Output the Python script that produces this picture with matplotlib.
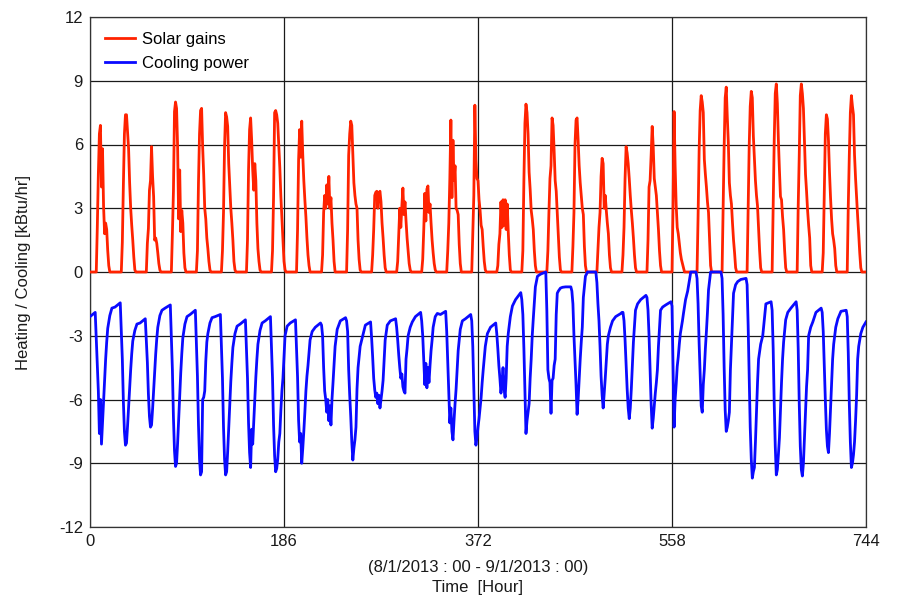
import matplotlib
matplotlib.use("Agg")
import matplotlib.pyplot as plt

plt.rcParams['font.family'] = ['Liberation Sans', 'DejaVu Sans']
plt.rcParams['axes.unicode_minus'] = False

# ---------------- data ----------------
x_ticks = [0, 186, 372, 558, 744]
y_ticks = [-12, -9, -6, -3, 0, 3, 6, 9, 12]
series_names = ["Solar gains", "Cooling power"]
x_label = "(8/1/2013 : 00 - 9/1/2013 : 00)\nTime  [Hour]"
y_label = "Heating / Cooling [kBtu/hr]"

# solar gains, hours 7..19 of each day (0 outside)
solar_hours = [7, 8, 9, 10, 11, 12, 13, 14, 15, 16, 17, 18, 19]
solar_by_day = [
    [2.1, 4.6, 6.5, 6.9, 4.0, 5.8, 3.1, 1.8, 2.3, 2.0, 1.0, 0.3, 0.0],
    [1.4, 4.1, 6.5, 7.4, 7.4, 6.6, 5.8, 4.2, 3.0, 2.2, 1.5, 0.7, 0.1],
    [1.35, 2.05, 3.85, 4.3, 5.9, 4.5, 3.55, 1.5, 1.6, 1.35, 0.9, 0.4, 0.1],
    [1.8, 3.8, 7.55, 8.0, 7.7, 5.9, 2.5, 4.8, 1.9, 2.9, 2.3, 0.9, 0.2],
    [1.0, 4.2, 6.5, 7.6, 7.7, 5.9, 4.6, 3.0, 2.5, 1.6, 1.1, 0.5, 0.1],
    [1.0, 2.8, 5.9, 7.5, 7.3, 6.85, 5.1, 4.0, 3.0, 2.3, 1.5, 0.5, 0.1],
    [1.5, 4.8, 6.7, 7.25, 6.2, 4.8, 3.85, 5.1, 4.3, 2.3, 1.1, 0.5, 0.1],
    [1.0, 3.55, 7.5, 7.6, 7.4, 7.0, 5.9, 4.9, 3.55, 2.5, 1.35, 0.5, 0.1],
    [2.0, 5.3, 6.7, 5.4, 7.1, 5.5, 4.3, 3.4, 2.6, 1.6, 0.8, 0.3, 0.0],
    [0.8, 2.8, 3.6, 3.0, 4.1, 3.2, 4.5, 3.0, 3.5, 2.3, 1.5, 0.5, 0.0],
    [2.0, 5.5, 6.5, 7.1, 6.9, 5.5, 4.2, 3.6, 3.2, 3.0, 1.5, 0.6, 0.1],
    [0.8, 2.0, 3.6, 3.75, 3.8, 3.0, 3.7, 3.8, 3.3, 2.3, 1.6, 0.8, 0.2],
    [0.5, 1.7, 3.0, 2.1, 3.1, 3.95, 2.7, 3.3, 2.4, 1.6, 1.0, 0.4, 0.1],
    [0.6, 2.0, 3.7, 2.4, 3.9, 4.05, 2.8, 3.2, 2.3, 1.5, 0.9, 0.4, 0.1],
    [1.0, 2.3, 4.4, 7.15, 3.5, 6.2, 4.3, 5.0, 3.0, 2.9, 2.7, 1.3, 0.4],
    [1.8, 3.6, 7.85, 5.3, 4.4, 4.3, 3.4, 2.9, 2.2, 2.0, 1.2, 0.5, 0.1],
    [0.3, 1.3, 1.8, 3.3, 2.1, 3.4, 2.2, 3.4, 2.0, 3.2, 1.9, 0.8, 0.1],
    [1.0, 4.3, 7.0, 7.9, 7.5, 6.5, 4.7, 3.9, 2.9, 2.5, 2.0, 1.0, 0.3],
    [1.0, 2.8, 4.4, 5.0, 7.25, 6.9, 5.7, 4.3, 3.8, 2.8, 1.7, 0.7, 0.1],
    [1.2, 2.8, 6.0, 7.15, 7.25, 6.2, 5.0, 4.2, 3.6, 3.0, 2.7, 1.2, 0.3],
    [1.0, 2.1, 2.8, 4.5, 5.35, 5.1, 3.0, 3.6, 2.9, 2.3, 1.8, 0.8, 0.2],
    [0.8, 2.1, 4.4, 5.9, 5.6, 5.1, 4.4, 3.6, 2.9, 2.3, 1.6, 0.8, 0.2],
    [1.5, 4.0, 4.3, 5.5, 6.85, 5.9, 4.4, 4.0, 3.6, 2.8, 2.0, 1.0, 0.3],
    [3.1, 7.55, 5.0, 3.15, 2.1, 1.8, 1.35, 0.9, 0.6, 0.4, 0.2, 0.0, 0.0],
    [2.6, 5.7, 7.6, 8.3, 8.0, 7.5, 5.3, 4.6, 4.0, 3.3, 2.8, 1.5, 0.3],
    [2.9, 5.9, 8.2, 8.7, 7.3, 6.1, 4.2, 3.6, 3.2, 2.3, 1.5, 0.9, 0.2],
    [2.9, 5.9, 7.8, 8.5, 8.2, 6.4, 5.3, 4.3, 3.6, 3.1, 2.0, 1.0, 0.2],
    [3.1, 6.2, 8.4, 8.85, 7.95, 6.2, 4.8, 3.55, 3.4, 2.6, 2.0, 1.0, 0.2],
    [3.1, 5.5, 8.3, 8.85, 8.4, 7.7, 6.2, 4.6, 3.8, 2.9, 2.2, 1.6, 0.3],
    [0.9, 3.7, 6.5, 7.4, 7.2, 6.2, 4.7, 3.5, 2.5, 1.8, 1.5, 1.1, 0.3],
    [3.1, 5.5, 7.5, 8.3, 7.8, 7.4, 5.5, 4.4, 3.5, 2.6, 1.8, 0.9, 0.2],
]

# cooling power at these hours of each day
cooling_hours = [0, 5, 6, 7, 8, 9, 10, 11, 12, 13, 14, 15, 16, 17, 19, 21]
cooling_by_day = [
    [-2.1, -1.9, -3.1, -4.4, -5.6, -7.6, -6.0, -8.1, -7.1, -6.1, -5.1, -4.1, -3.3, -2.65, -2.05, -1.7],
    [-1.65, -1.45, -2.8, -4.1, -6.1, -7.5, -8.15, -8.05, -7.25, -6.35, -5.5, -4.6, -3.85, -3.25, -2.75, -2.45],
    [-2.4, -2.2, -3.2, -4.25, -5.75, -6.8, -7.3, -7.2, -6.45, -5.6, -4.7, -3.85, -3.15, -2.6, -2.05, -1.8],
    [-1.7, -1.55, -3.05, -4.6, -6.85, -8.4, -9.15, -9.0, -8.05, -6.95, -5.85, -4.75, -3.85, -3.1, -2.45, -2.1],
    [-2.0, -1.8, -3.35, -4.9, -7.2, -8.8, -9.55, -9.4, -6.0, -5.9, -5.6, -4.2, -3.3, -2.9, -2.4, -2.15],
    [-2.1, -2.0, -3.5, -5.0, -7.3, -8.8, -9.55, -9.4, -8.45, -7.35, -6.25, -5.15, -4.3, -3.55, -2.9, -2.55],
    [-2.45, -2.25, -3.65, -5.0, -7.1, -8.5, -9.2, -7.4, -8.1, -7.05, -6.0, -4.95, -4.1, -3.4, -2.75, -2.4],
    [-2.3, -2.1, -3.55, -5.0, -7.2, -8.65, -9.4, -9.25, -8.8, -8.0, -7.6, -6.5, -5.6, -5.0, -3.0, -2.55],
    [-2.4, -2.25, -3.6, -4.95, -7.0, -8.0, -7.6, -9.0, -8.3, -7.5, -6.6, -5.6, -4.9, -4.4, -3.2, -2.8],
    [-2.6, -2.4, -2.5, -3.0, -4.5, -5.6, -6.0, -6.6, -6.0, -7.0, -6.3, -7.2, -6.0, -5.2, -3.5, -2.7],
    [-2.3, -2.15, -2.3, -2.8, -4.6, -5.8, -6.8, -8.0, -8.85, -8.3, -7.9, -7.3, -5.5, -4.5, -3.5, -3.1],
    [-2.5, -2.35, -3.1, -4.0, -5.0, -5.55, -5.9, -5.7, -6.2, -5.8, -6.4, -6.0, -5.6, -5.1, -3.2, -2.5],
    [-2.3, -2.2, -2.6, -3.2, -3.9, -4.5, -5.0, -4.8, -5.4, -5.6, -5.7, -4.1, -3.6, -3.0, -2.6, -2.35],
    [-2.1, -1.9, -2.3, -3.0, -4.1, -5.3, -4.3, -5.45, -4.5, -5.2, -4.4, -3.7, -3.2, -2.6, -2.1, -1.95],
    [-2.0, -1.85, -2.8, -4.2, -5.6, -7.1, -6.4, -7.5, -7.9, -7.0, -6.2, -5.5, -4.6, -3.7, -2.7, -2.3],
    [-2.2, -2.0, -2.3, -3.5, -5.5, -7.5, -8.15, -7.8, -7.3, -6.9, -6.4, -5.9, -5.2, -4.6, -3.5, -2.9],
    [-2.6, -2.4, -2.9, -3.6, -4.4, -5.0, -5.7, -5.2, -4.5, -5.5, -5.9, -5.0, -3.5, -2.9, -2.1, -1.6],
    [-1.3, -0.97, -1.3, -2.0, -3.6, -5.5, -7.6, -7.0, -6.6, -6.2, -5.0, -4.1, -3.0, -2.2, -0.7, -0.2],
    [-0.1, 0.0, -1.8, -4.6, -5.0, -5.2, -6.65, -5.1, -5.0, -4.4, -4.1, -2.0, -1.0, -0.9, -0.76, -0.72],
    [-0.7, -0.7, -0.9, -1.5, -3.0, -4.1, -5.3, -6.7, -6.0, -5.0, -4.1, -3.3, -2.6, -1.2, -0.2, 0.0],
    [0.0, 0.0, -0.5, -1.5, -2.3, -3.5, -4.9, -5.8, -6.4, -5.7, -5.0, -4.2, -3.4, -3.0, -2.6, -2.3],
    [-2.1, -1.95, -1.9, -1.9, -2.3, -3.2, -4.4, -5.5, -6.4, -6.9, -6.4, -5.5, -4.4, -3.3, -1.8, -1.5],
    [-1.3, -1.1, -1.2, -1.8, -3.0, -4.6, -6.2, -7.35, -6.9, -6.3, -5.7, -5.2, -4.6, -3.5, -1.8, -1.65],
    [-1.55, -1.4, -1.6, -4.6, -7.3, -6.0, -5.3, -4.45, -4.0, -3.4, -2.9, -2.6, -2.3, -1.95, -1.3, -0.9],
    [0.0, 0.0, -0.3, -1.5, -3.35, -4.8, -6.3, -6.6, -5.3, -4.6, -3.6, -2.8, -1.9, -0.85, 0.0, 0.0],
    [0.0, 0.0, -0.3, -2.0, -4.5, -6.5, -7.5, -7.3, -7.0, -6.6, -4.6, -3.4, -2.2, -1.0, -0.6, -0.45],
    [-0.35, -0.3, -0.6, -2.5, -5.0, -7.3, -8.8, -9.7, -9.4, -9.2, -8.0, -6.6, -5.2, -4.1, -3.4, -3.0],
    [-1.5, -1.4, -1.8, -3.6, -6.2, -8.2, -9.55, -9.3, -8.6, -7.8, -6.5, -5.2, -4.1, -3.3, -2.25, -1.9],
    [-1.7, -1.4, -1.8, -3.6, -6.2, -8.2, -9.3, -9.6, -9.0, -7.8, -6.5, -5.4, -4.6, -3.0, -2.6, -2.35],
    [-1.9, -1.7, -1.9, -2.8, -4.4, -6.0, -7.4, -8.2, -8.5, -7.6, -6.4, -5.2, -4.1, -3.4, -2.6, -2.2],
    [-1.85, -1.8, -2.1, -3.8, -6.2, -8.0, -9.2, -9.0, -8.6, -8.0, -7.0, -5.8, -4.1, -3.5, -2.9, -2.6],
]
cooling_end_value = -2.35

# ---------------- build series ----------------
n_hours = 24 * len(solar_by_day)
sx, sy = [0], [0.0]
for d, vals in enumerate(solar_by_day):
    base = 24 * d
    sx += [base + solar_hours[0] - 1] + [base + h for h in solar_hours] + [base + solar_hours[-1] + 1]
    sy += [0.0] + list(vals) + [0.0]
sx.append(n_hours); sy.append(0.0)

cx, cy = [], []
for d, vals in enumerate(cooling_by_day):
    base = 24 * d
    cx += [base + h for h in cooling_hours]
    cy += list(vals)
cx.append(n_hours); cy.append(cooling_end_value)

# ---------------- plot ----------------
FS = 12
fig = plt.figure(figsize=(8.98, 5.99), dpi=100)
ax = fig.add_axes([90 / 898, 1 - 527 / 599, (866 - 90) / 898, (527 - 17) / 599])

ax.plot(sx, sy, color='#ff2200', lw=2.0, label=series_names[0], zorder=3)
ax.plot(cx, cy, color='#0a0aff', lw=2.0, label=series_names[1], zorder=3)

ax.set_xlim(x_ticks[0], x_ticks[-1])
ax.set_ylim(y_ticks[0], y_ticks[-1])
ax.set_xticks(x_ticks)
ax.set_yticks(y_ticks)
ax.grid(True, color='#1a1a1a', lw=0.9, zorder=1)
ax.set_axisbelow(True)
ax.tick_params(length=0, labelsize=FS, colors='#1a1a1a', pad=5)
for s in ax.spines.values():
    s.set_color('#333333')
    s.set_linewidth(0.9)

ax.set_ylabel(y_label, fontsize=FS, color='#1a1a1a', labelpad=20)
ax.set_xlabel(x_label, fontsize=FS, color='#1a1a1a', labelpad=8, linespacing=1.45)

leg = ax.legend(loc='upper left', frameon=False, fontsize=FS, handlelength=1.8,
                handletextpad=0.45, labelspacing=0.55, borderaxespad=0.5)

fig.savefig("out.png", dpi=100)
